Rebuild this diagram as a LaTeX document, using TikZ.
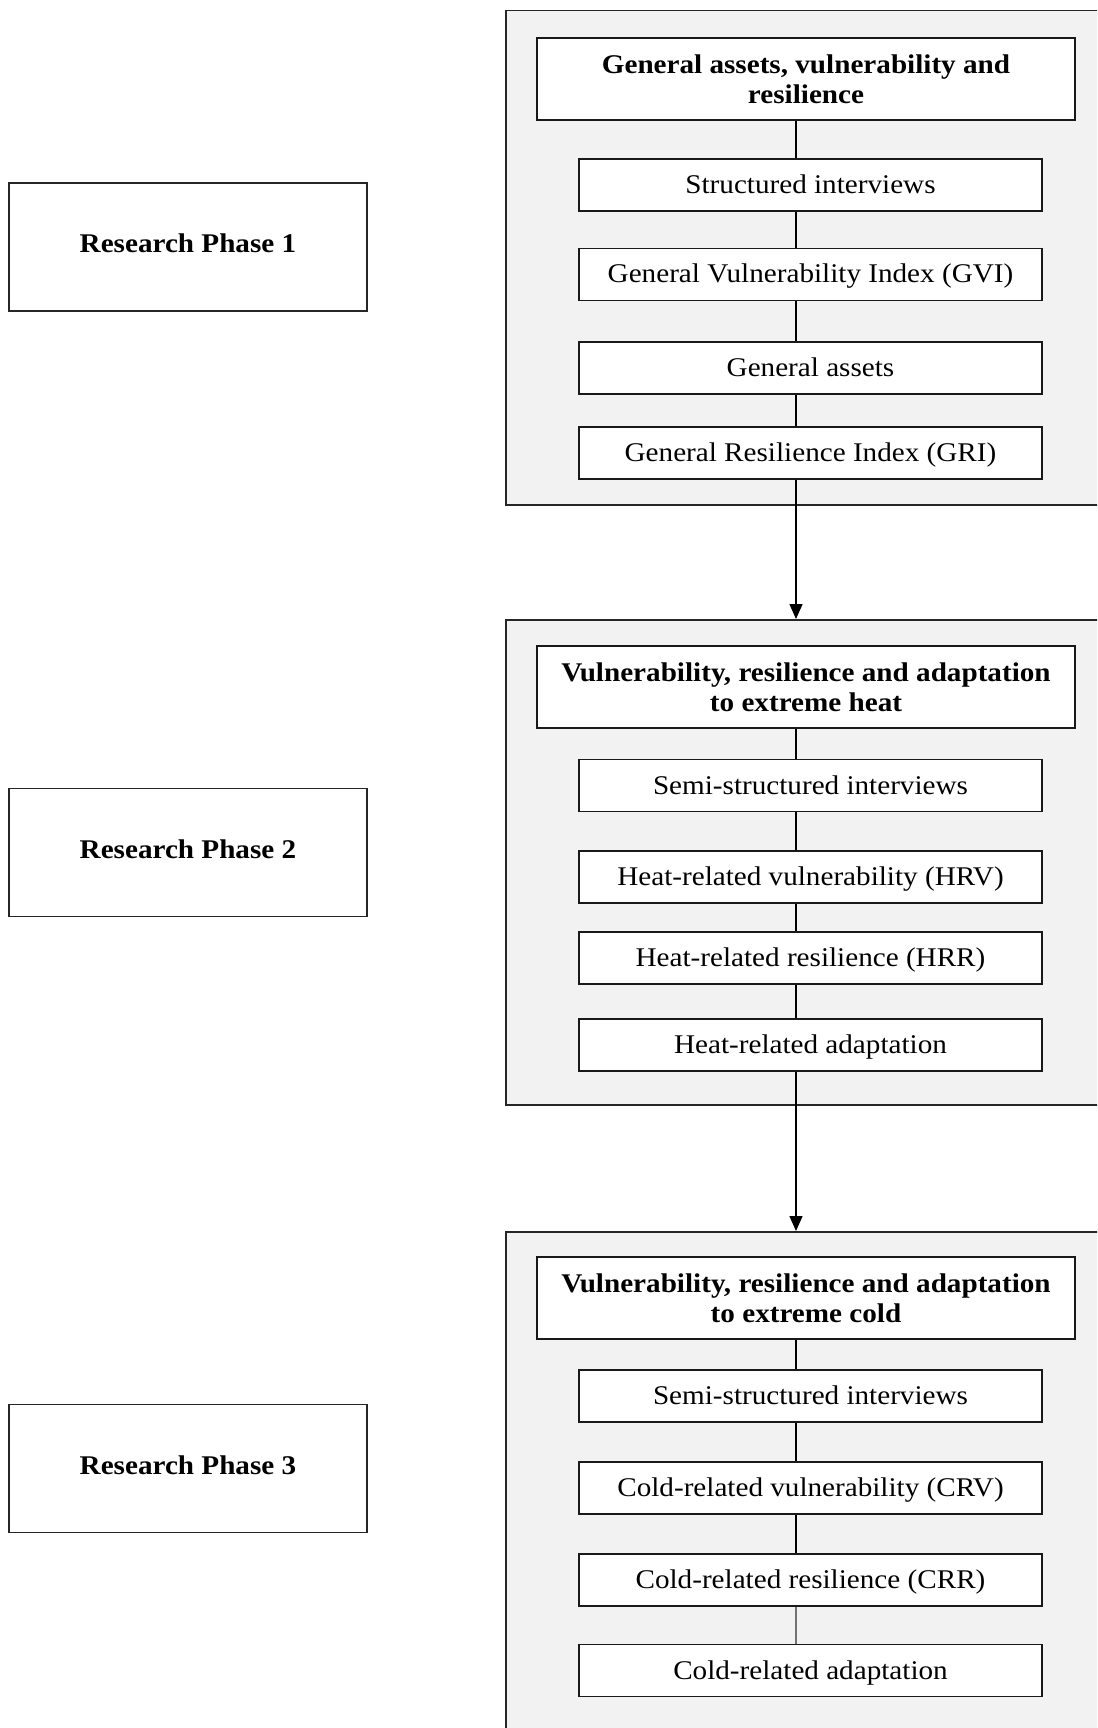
\documentclass[tikz,border=0pt]{standalone}
\usepackage{fontspec}
\setmainfont{Liberation Serif}[FakeStretch=1.08]
\usetikzlibrary{arrows.meta}
\begin{document}
\begin{tikzpicture}[x=1pt,y=-1pt,
  panel/.style={draw=black!85, fill=black!5, line width=1.5pt, inner sep=0pt, anchor=north west},
  phasebox/.style={draw=black!85, fill=white, line width=1.5pt, minimum width=358pt, minimum height=128pt, inner sep=0pt, font=\fontsize{27}{30}\selectfont\bfseries},
  titlebox/.style={draw=black!90, fill=white, line width=1.5pt, minimum width=538pt, minimum height=82pt, inner sep=0pt, align=center, font=\fontsize{27}{30}\selectfont\bfseries},
  itembox/.style={draw=black!90, fill=white, line width=1.5pt, minimum width=463pt, minimum height=52pt, inner sep=0pt, text height=20pt, text depth=3pt, font=\fontsize{27}{30}\selectfont},
  link/.style={line width=1.5pt},
  arrowlink/.style={line width=1.5pt, -{Triangle[length=15pt,width=13pt]}}
]
\useasboundingbox (0,0) rectangle (1097,1728);
\fill[white] (0,0) rectangle (1097,1728);
\clip (0,0) rectangle (1097,1728);
\coordinate (cx) at (796,0);

% panels
\node[panel, minimum width=620pt, minimum height=494pt] (p1) at (505,10) {};
\node[panel, minimum width=620pt, minimum height=485pt] (p2) at (505,619) {};
\node[panel, minimum width=620pt, minimum height=520pt] (p3) at (505,1231) {};

% phases
\node[phasebox] (ph1) at (188,247) {\raisebox{7pt}{Research Phase 1}};
\node[phasebox] (ph2) at (188,852.5) {\raisebox{7pt}{Research Phase 2}};
\node[phasebox] (ph3) at (188,1468.5) {\raisebox{7pt}{Research Phase 3}};

% phase 1 content
\node[titlebox] (t1) at (806,79) {General assets, vulnerability and\\resilience};
\node[itembox] (a1) at (810.5,185) {Structured interviews};
\node[itembox] (a2) at (810.5,274.5) {General Vulnerability Index (GVI)};
\node[itembox] (a3) at (810.5,368) {General assets};
\node[itembox] (a4) at (810.5,453) {General Resilience Index (GRI)};

% phase 2 content
\node[titlebox] (t2) at (806,687) {Vulnerability, resilience and adaptation\\to extreme heat};
\node[itembox] (b1) at (810.5,785.5) {Semi-structured interviews};
\node[itembox] (b2) at (810.5,877) {Heat-related vulnerability (HRV)};
\node[itembox] (b3) at (810.5,958) {Heat-related resilience (HRR)};
\node[itembox] (b4) at (810.5,1045) {Heat-related adaptation};

% phase 3 content
\node[titlebox] (t3) at (806,1298) {Vulnerability, resilience and adaptation\\to extreme cold};
\node[itembox] (c1) at (810.5,1396) {Semi-structured interviews};
\node[itembox] (c2) at (810.5,1488) {Cold-related vulnerability (CRV)};
\node[itembox] (c3) at (810.5,1580) {Cold-related resilience (CRR)};
\node[itembox] (c4) at (810.5,1670.5) {Cold-related adaptation};

% connectors
\draw[link] (t1.south -| cx) -- (a1.north -| cx);
\draw[link] (a1.south -| cx) -- (a2.north -| cx);
\draw[link] (a2.south -| cx) -- (a3.north -| cx);
\draw[link] (a3.south -| cx) -- (a4.north -| cx);
\draw[arrowlink] (a4.south -| cx) -- (p2.north -| cx);

\draw[link] (t2.south -| cx) -- (b1.north -| cx);
\draw[link] (b1.south -| cx) -- (b2.north -| cx);
\draw[link] (b2.south -| cx) -- (b3.north -| cx);
\draw[link] (b3.south -| cx) -- (b4.north -| cx);
\draw[arrowlink] (b4.south -| cx) -- (p3.north -| cx);

\draw[link] (t3.south -| cx) -- (c1.north -| cx);
\draw[link] (c1.south -| cx) -- (c2.north -| cx);
\draw[link] (c2.south -| cx) -- (c3.north -| cx);
\draw[link, draw=black!55] (c3.south -| cx) -- (c4.north -| cx);
\end{tikzpicture}
\end{document}
